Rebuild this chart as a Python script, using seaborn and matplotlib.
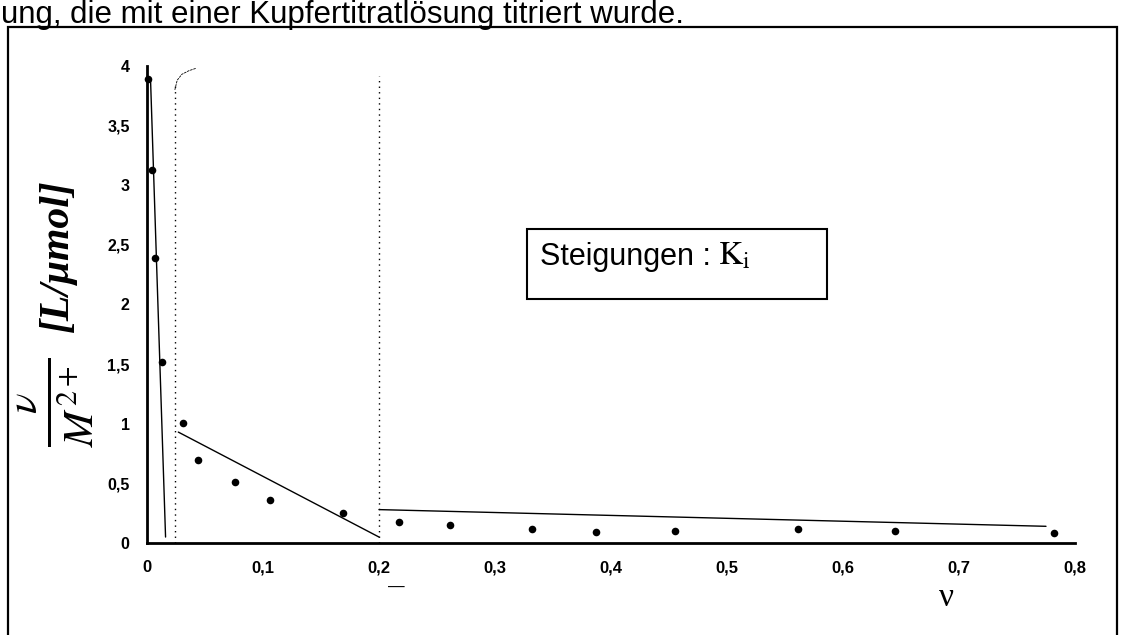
import matplotlib
matplotlib.use("Agg")
import matplotlib.pyplot as plt
import seaborn as sns
import pandas as pd
from matplotlib.patches import Rectangle

# ---- data ----
nu = [0.001, 0.004, 0.007, 0.013, 0.031, 0.044, 0.076, 0.106, 0.169,
      0.217, 0.261, 0.332, 0.387, 0.455, 0.561, 0.645, 0.782]
ratio = [3.89, 3.13, 2.39, 1.52, 1.01, 0.70, 0.51, 0.36, 0.25,
         0.18, 0.15, 0.12, 0.09, 0.10, 0.12, 0.10, 0.08]

fit1_x = [0.003, 0.016]
fit1_y = [3.90, 0.05]
fit2_x = [0.027, 0.200]
fit2_y = [0.93, 0.05]
fit3_x = [0.200, 0.775]
fit3_y = [0.28, 0.14]

sep_x = [0.024, 0.200]
sep_top = [3.85, 3.92]

x_ticks = [0, 0.1, 0.2, 0.3, 0.4, 0.5, 0.6, 0.7, 0.8]
x_labels = ["0", "0,1", "0,2", "0,3", "0,4", "0,5", "0,6", "0,7", "0,8"]
y_ticks = [0, 0.5, 1, 1.5, 2, 2.5, 3, 3.5, 4]
y_labels = ["0", "0,5", "1", "1,5", "2", "2,5", "3", "3,5", "4"]

sns.set_style("white")
plt.rcParams["font.family"] = ["Liberation Sans", "DejaVu Sans"]
plt.rcParams["mathtext.fontset"] = "stix"

W, H = 1121, 635
fig = plt.figure(figsize=(W / 100, H / 100), dpi=100)
ax = fig.add_axes([147 / W, (H - 543) / H, (1075 - 147) / W, (543 - 66) / H])

df = pd.DataFrame({"nu": nu, "ratio": ratio})
sns.scatterplot(data=df, x="nu", y="ratio", ax=ax, color="black", s=30,
                edgecolor="black", linewidth=0, clip_on=False, zorder=4)

for fx, fy in [(fit1_x, fit1_y), (fit2_x, fit2_y), (fit3_x, fit3_y)]:
    sns.lineplot(x=fx, y=fy, ax=ax, color="black", linewidth=1.0,
                 estimator=None, sort=False)

for sx, st in zip(sep_x, sep_top):
    ax.plot([sx, sx], [0, st], color="black", linestyle=(0, (1, 3)),
            linewidth=1.0, clip_on=False)
# small curved mark at top of first separator
ax.plot([0.024, 0.026, 0.030, 0.036, 0.042], [3.80, 3.88, 3.93, 3.96, 3.98],
        color="black", linewidth=0.6, linestyle=(0, (3, 1)), clip_on=False)

ax.set_xlim(0, 0.8)
ax.set_ylim(0, 4)
ax.set_xticks(x_ticks)
ax.set_xticklabels(x_labels)
ax.set_yticks(y_ticks)
ax.set_yticklabels(y_labels)
ax.set_xlabel("")
ax.set_ylabel("")
for lab in ax.get_xticklabels():
    lab.set_fontweight("bold")
    lab.set_fontsize(12)
for lab in ax.get_yticklabels():
    lab.set_fontweight("bold")
    lab.set_fontsize(11.5)
ax.tick_params(axis="both", direction="inout", length=9, width=1.3,
               color="black", labelcolor="black")
ax.tick_params(axis="x", pad=8)
ax.tick_params(axis="y", pad=8)
ax.patch.set_alpha(0)
for side in ["top", "right"]:
    ax.spines[side].set_visible(False)
for side in ["left", "bottom"]:
    ax.spines[side].set_color("black")
    ax.spines[side].set_linewidth(2.0)

# outer frame
fig.patches.append(Rectangle((8 / W, -0.05), (1117 - 8) / W, (H - 27) / H + 0.05,
                             transform=fig.transFigure, fill=False,
                             edgecolor="black", linewidth=1.6))

# caption text at top (kept inside the figure)
fig.text(1 / W, 1 - 23 / H, "ung, die mit einer Kupfertitratlösung titriert wurde.",
         fontsize=22.5, ha="left", va="baseline", color="black")

# annotation box
fig.patches.append(Rectangle((527 / W, 1 - 299 / H), (827 - 527) / W, (299 - 229) / H,
                             transform=fig.transFigure, fill=False,
                             edgecolor="black", linewidth=1.5))
t1 = fig.text(540 / W, 1 - 265 / H, "Steigungen :", fontsize=22,
              ha="left", va="baseline", color="black")
fig.canvas.draw()
bb = t1.get_window_extent(renderer=fig.canvas.get_renderer())
fig.text((bb.x1 + 7) / W, 1 - 265 / H, r"$\mathrm{K_i}$", fontsize=24,
         ha="left", va="baseline", color="black")

# y label
fig.text(56 / W, 1 - 402 / H, r"$\frac{\nu}{M^{2+}}$", fontsize=44, rotation=90,
         ha="center", va="center", color="black")
fig.text(58 / W, 1 - 256 / H, "[L/μmol]", fontsize=30, rotation=90,
         family=["Liberation Serif", "DejaVu Serif"], style="italic",
         weight="bold", ha="center", va="center", color="black")

# x label
fig.text(946 / W, 1 - 598 / H, "ν", fontsize=24,
         family=["Liberation Serif", "DejaVu Serif"], ha="center", va="center",
         color="black")

# small dash under 0,2
fig.text(396 / W, 1 - 587 / H, "—", fontsize=12, ha="center", va="center",
         color="black")

fig.savefig("out.png", dpi=100)
